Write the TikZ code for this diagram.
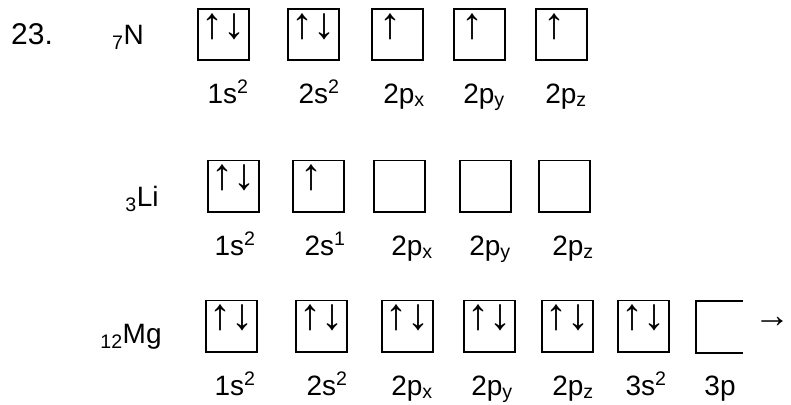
\documentclass[tikz,border=0pt]{standalone}
\usepackage{fontspec}
\setmainfont{Liberation Sans}
\usetikzlibrary{positioning, calc}

\begin{document}
\begin{tikzpicture}[
    x=1pt, y=-1pt,
    orb/.style={rectangle, draw, line width=1.6pt, minimum size=51.4pt, inner sep=0pt},
    spin/.style={inner sep=0pt, font=\fontsize{44}{46}\selectfont},
    lbl/.style={inner sep=0pt, anchor=base, font=\fontsize{28}{32}\selectfont},
    atom/.style={inner sep=0pt, anchor=base, font=\fontsize{28}{32}\selectfont}
]
    \useasboundingbox (0,0) rectangle (791,404);

    % 7N
    \node[atom, font=\fontsize{30}{34}\selectfont] (num) at (32,45) {23.};
    \node[atom] (nat) at (128,45) {\textsubscript{7}N};
    \foreach \i/\x in {1/223.5, 2/313.5, 3/397.5, 4/479.5, 5/561.5}
        \node[orb] (n\i) at (\x,34.5) {};
    \foreach \i in {1,2} {
        \node[spin] (n\i u) at ($(n\i)+(-11,-8)$) {↑};
        \node[spin] (n\i d) at ($(n\i)+(11,-8)$) {↓};
    }
    \foreach \i in {3,4,5}
        \node[spin] (n\i u) at ($(n\i)+(-7,-8)$) {↑};
    \foreach \i/\x/\t in {1/228/1s\textsuperscript{2}, 2/319/2s\textsuperscript{2},
                          3/404/2p\textsubscript{x}, 4/484/2p\textsubscript{y},
                          5/566/2p\textsubscript{z}}
        \node[lbl] (nl\i) at (\x,103) {\t};

    % 3Li
    \node[atom] (liat) at (142,206) {\textsubscript{3}Li};
    \foreach \i/\x in {1/233.5, 2/318.5, 3/399.5, 4/485.5, 5/564.5}
        \node[orb] (li\i) at (\x,186) {};
    \node[spin] (li1u) at ($(li1)+(-11,-8)$) {↑};
    \node[spin] (li1d) at ($(li1)+(11,-8)$) {↓};
    \node[spin] (li2u) at ($(li2)+(-7,-8)$) {↑};
    \foreach \i/\x/\t in {1/235/1s\textsuperscript{2}, 2/325/2s\textsuperscript{1},
                          3/412/2p\textsubscript{x}, 4/490/2p\textsubscript{y},
                          5/573/2p\textsubscript{z}}
        \node[lbl] (lil\i) at (\x,255) {\t};

    % 12Mg
    \node[atom] (mgat) at (131,343) {\textsubscript{12}Mg};
    \foreach \i/\x in {1/231.5, 2/321.5, 3/407.5, 4/489.5, 5/567.5, 6/643.5} {
        \node[orb] (mg\i) at (\x,326) {};
        \node[spin] (mg\i u) at ($(mg\i)+(-11,-8)$) {↑};
        \node[spin] (mg\i d) at ($(mg\i)+(11,-8)$) {↓};
    }
    \node[orb, draw=none, minimum width=45pt, minimum height=50.4pt] (mg7) at (719.5,327) {};
    \draw[line width=1.6pt] (mg7.north east) -- (mg7.north west) -- (mg7.south west) -- (mg7.south east);
    \node[spin, font=\fontsize{36}{38}\selectfont] (next) at (772,322) {→};
    \foreach \i/\x/\t in {1/235/1s\textsuperscript{2}, 2/327/2s\textsuperscript{2},
                          3/412/2p\textsubscript{x}, 4/492/2p\textsubscript{y},
                          5/573/2p\textsubscript{z}, 6/646/3s\textsuperscript{2},
                          7/720/3p}
        \node[lbl] (mgl\i) at (\x,395) {\t};
\end{tikzpicture}
\end{document}
